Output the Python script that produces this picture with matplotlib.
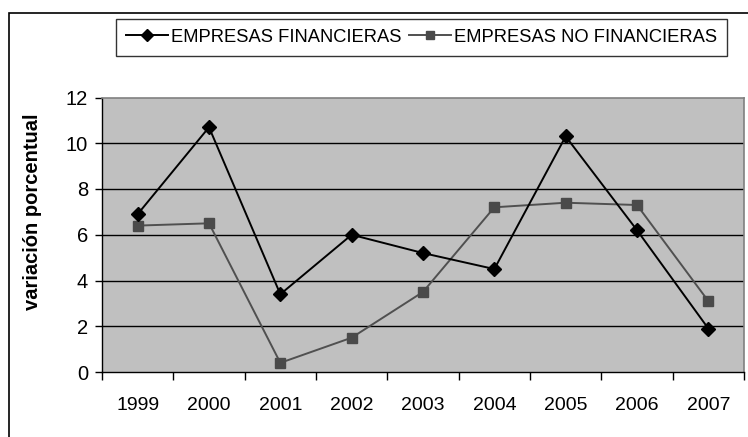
import matplotlib
matplotlib.use("Agg")
import matplotlib.pyplot as plt
from matplotlib.patches import Rectangle
import numpy as np

years = ["1999", "2000", "2001", "2002", "2003", "2004", "2005", "2006", "2007"]
financieras = [6.9, 10.7, 3.4, 6.0, 5.2, 4.5, 10.3, 6.2, 1.9]
no_financieras = [6.4, 6.5, 0.4, 1.5, 3.5, 7.2, 7.4, 7.3, 3.1]
y_ticks = [0, 2, 4, 6, 8, 10, 12]

plt.rcParams['font.family'] = ['Liberation Sans', 'DejaVu Sans']

W, H = 748, 437
fig = plt.figure(figsize=(W / 100, H / 100), dpi=100)
ax = fig.add_axes([102 / W, 1 - 372 / H, (744 - 102) / W, (372 - 97.5) / H])

# figure outer frame (partially cut off in the reference)
fig.patches.append(Rectangle((8.5 / W, -0.2), 2.0, 1.2 - 12.5 / H,
                             transform=fig.transFigure, fill=False,
                             edgecolor='black', linewidth=1.2))

ax.set_facecolor('#C0C0C0')
x = np.arange(len(years)) + 0.5
ax.set_xlim(0, len(years))
ax.set_ylim(0, 12)

for v in y_ticks[1:-1]:
    ax.axhline(v, color='black', linewidth=1.0, zorder=1)

l1, = ax.plot(x, financieras, color='black', linewidth=1.4, marker='D',
              markersize=7, markerfacecolor='black', markeredgecolor='black',
              zorder=3, label='EMPRESAS FINANCIERAS')
l2, = ax.plot(x, no_financieras, color='#505050', linewidth=1.4, marker='s',
              markersize=7.5, markerfacecolor='#4a4a4a', markeredgecolor='#4a4a4a',
              zorder=2, label='EMPRESAS NO FINANCIERAS')

for s in ['top', 'right']:
    ax.spines[s].set_color('#808080')
    ax.spines[s].set_linewidth(1.2)
ax.spines['left'].set_color('black')
ax.spines['bottom'].set_color('black')
ax.spines['left'].set_linewidth(1.0)
ax.spines['bottom'].set_linewidth(1.0)

ax.set_yticks(y_ticks)
ax.set_yticklabels([str(v) for v in y_ticks])
ax.tick_params(axis='y', direction='out', length=5, width=1, labelsize=14.5, pad=5)

ax.set_xticks(np.arange(len(years) + 1))
ax.set_xticklabels([''] * (len(years) + 1))
ax.set_xticks(x, minor=True)
ax.set_xticklabels(years, minor=True)
ax.tick_params(axis='x', which='major', direction='out', length=6, width=1)
ax.tick_params(axis='x', which='minor', length=0, labelsize=14, pad=18)

ax.set_ylabel('variación porcentual', fontsize=14.5, fontweight='bold')
ax.yaxis.set_label_coords(-(102 - 42) / (744 - 102), (372 - 211.5) / (372 - 97.5))

leg = fig.legend(handles=[l1, l2], loc='center',
                 bbox_to_anchor=((115.7 + 727.3) / 2 / W, 1 - 37.2 / H),
                 ncol=2, frameon=True, fancybox=False, fontsize=13.2,
                 handlelength=2.3, handletextpad=0.15, columnspacing=0.45,
                 borderpad=0.55, borderaxespad=0, markerscale=0.85)
leg.get_frame().set_edgecolor('black')
leg.get_frame().set_linewidth(1.0)

fig.savefig('out.png', dpi=100)
